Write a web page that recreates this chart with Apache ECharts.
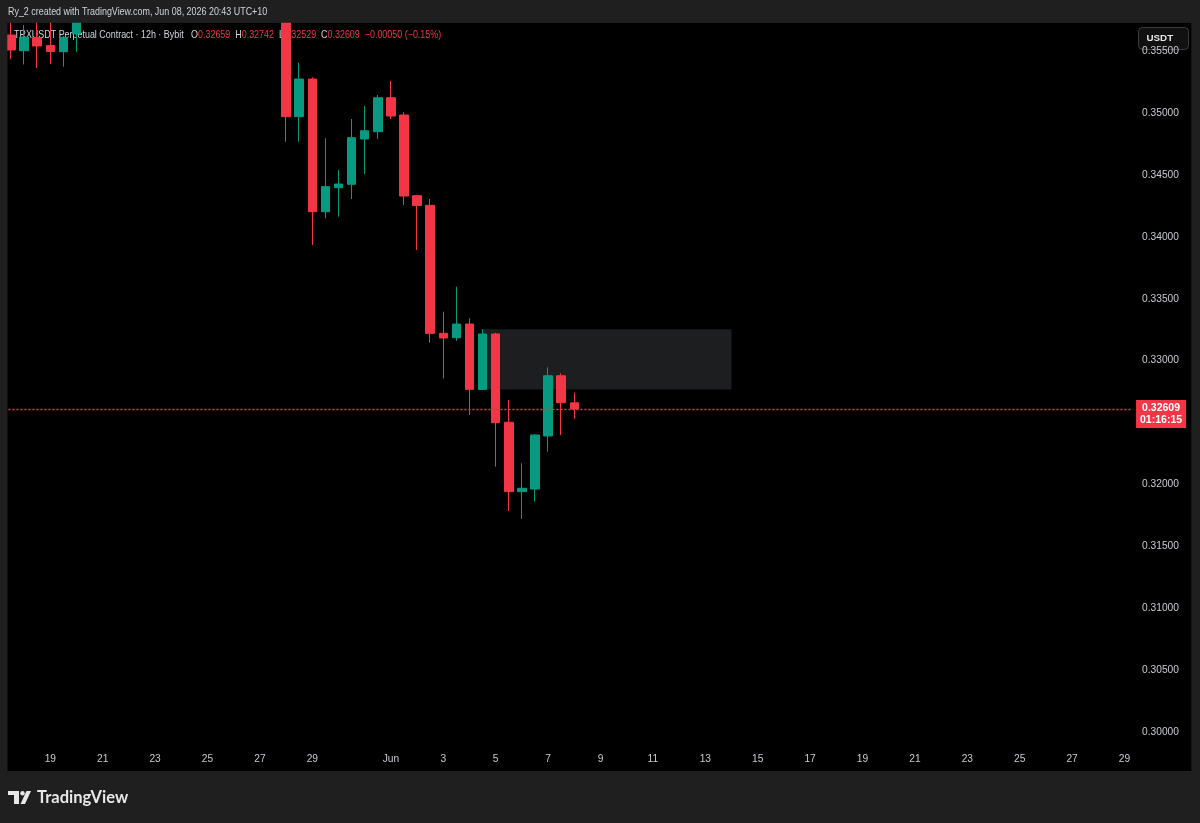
<!DOCTYPE html>
<html>
<head>
<meta charset="utf-8">
<title>TRXUSDT 12h</title>
<script src="https://cdn.jsdelivr.net/npm/echarts@6/dist/echarts.min.js"></script>
<style>
  html, body { margin: 0; padding: 0; background: #1f1f1f; }
  #chart { width: 1200px; height: 823px; }
</style>
</head>
<body>
<div id="chart"></div>
<script>
// 12h candles, first slot = May 17 22:00 (UTC+10). null = candle above the visible range
var openPrices  = [0.35633, 0.35506, 0.35613, 0.35548, 0.35498, 0.35641,
  null, null, null, null, null, null, null, null, null, null, null, null, null, null, null,
  0.3610, 0.34973, 0.35277, 0.34204, 0.34398, 0.34426, 0.34792, 0.34851, 0.35126, 0.34986,
  0.34334, 0.34256, 0.33221, 0.33186, 0.33296, 0.32767, 0.33216, 0.32502, 0.31941, 0.31962,
  0.32391, 0.32878, 0.32659];
var highPrices  = [0.3578, 0.35714, 0.3580, 0.3577, 0.35625, 0.3586,
  null, null, null, null, null, null, null, null, null, null, null, null, null, null, null,
  0.3620, 0.35409, 0.35291, 0.34798, 0.34542, 0.34954, 0.35059, 0.35148, 0.35261, 0.35008,
  0.34337, 0.34307, 0.33396, 0.33598, 0.33342, 0.33254, 0.33226, 0.32682, 0.32170, 0.32405,
  0.32946, 0.32898, 0.32742];
var lowPrices   = [0.35437, 0.35395, 0.35366, 0.35399, 0.35377, 0.35498,
  null, null, null, null, null, null, null, null, null, null, null, null, null, null, null,
  0.34770, 0.34770, 0.33935, 0.34151, 0.34164, 0.34307, 0.34509, 0.34792, 0.34954, 0.34259,
  0.33895, 0.33145, 0.32857, 0.33161, 0.32561, 0.32764, 0.32143, 0.31784, 0.31720, 0.31860,
  0.32264, 0.32399, 0.32529];
var closePrices = [0.35512, 0.35617, 0.35544, 0.35500, 0.35614, 0.3580,
  null, null, null, null, null, null, null, null, null, null, null, null, null, null, null,
  0.34973, 0.35277, 0.34204, 0.34407, 0.34428, 0.34803, 0.34859, 0.35126, 0.34978, 0.34331,
  0.34255, 0.33221, 0.33183, 0.33296, 0.32768, 0.33216, 0.32498, 0.31941, 0.31968, 0.32399,
  0.32878, 0.32660, 0.32609];

var priceTicks = [0.300, 0.305, 0.310, 0.315, 0.320, 0.325, 0.330, 0.335, 0.340, 0.345, 0.350, 0.355];
var zoneBox = { fromSlot: 36, toSlot: 55, top: 0.33254, bottom: 0.32767 };
var lastChange = '\u22120.00050 (\u22120.15%)';
var countdown = '01:16:15';

var slotCount = 86;
var monthNames = ['Jan','Feb','Mar','Apr','May','Jun','Jul','Aug','Sep','Oct','Nov','Dec'];
var categories = [];
var dayLabels = [];
var startTime = Date.UTC(2026, 4, 17, 22);
for (var i = 0; i < slotCount; i++) {
  var d = new Date(startTime + i * 12 * 3600 * 1000);
  var day = d.getUTCDate(), hour = d.getUTCHours();
  categories.push(monthNames[d.getUTCMonth()] + ' ' + day + ' ' + (hour < 10 ? '0' : '') + hour + ':00');
  var lbl = '';
  // every second day; 31 is skipped since month start follows
  if (hour === 10 && day % 2 === 1 && day !== 31) {
    lbl = day === 1 ? monthNames[d.getUTCMonth()] : String(day);
  }
  dayLabels.push(lbl);
}

var candleData = openPrices.map(function (o, i) {
  if (o === null) return '-';
  return [o, closePrices[i], lowPrices[i], highPrices[i]];
});

var FONT = "'Liberation Sans', Arial, sans-serif";
var UP = '#089981', DOWN = '#f23645', TEXT = '#c9cbd1', FRAME = '#1f1f1f';
var last = openPrices.length - 1;

var chart = echarts.init(document.getElementById('chart'));

var option = {
  backgroundColor: FRAME,
  animation: false,
  textStyle: { fontFamily: FONT },
  grid: { left: 4.45, right: 68.95, top: 22.7, bottom: 80, containLabel: false },
  xAxis: {
    type: 'category',
    data: categories,
    boundaryGap: true,
    axisLine: { show: false },
    axisTick: { show: false },
    splitLine: { show: false },
    axisLabel: {
      interval: 0,
      margin: 11,
      color: TEXT,
      fontSize: 10.2,
      fontFamily: FONT,
      formatter: function (v, idx) { return dayLabels[idx]; }
    }
  },
  yAxis: {
    type: 'value',
    position: 'right',
    min: 0.299086,
    max: 0.357325,
    axisLine: { show: false },
    axisTick: { show: false },
    splitLine: { show: false },
    axisLabel: {
      customValues: priceTicks,
      margin: 11,
      color: TEXT,
      fontSize: 10.2,
      fontFamily: FONT,
      formatter: function (v) { return v.toFixed(5); }
    }
  },
  series: [{
    type: 'candlestick',
    data: candleData,
    barWidth: 9,
    clip: true,
    itemStyle: {
      color: UP, color0: DOWN,
      borderColor: UP, borderColor0: DOWN,
      borderWidth: 1
    },
    markArea: {
      silent: true,
      itemStyle: { color: '#1d1e20' },
      data: [[
        { xAxis: categories[zoneBox.fromSlot], yAxis: zoneBox.top },
        { xAxis: categories[zoneBox.toSlot], yAxis: zoneBox.bottom }
      ]]
    },
    markLine: {
      silent: true,
      symbol: 'none',
      precision: 5,
      z: 6,
      lineStyle: { color: DOWN, width: 1.3, type: [2, 2], opacity: 1 },
      label: {
        position: 'end',
        distance: 5,
        offset: [0, 5],
        formatter: function (p) { return '{a|' + Number(p.value).toFixed(5) + '}\n{a|' + countdown + '}'; },
        backgroundColor: DOWN,
        padding: [2, 3],
        rich: {
          a: { color: '#ffffff', fontSize: 10.5, fontWeight: 'bold', fontFamily: FONT, lineHeight: 12, width: 44, align: 'center' }
        }
      },
      data: [{ yAxis: closePrices[last] }]
    }
  }],
  graphic: [
    { type: 'rect', z: -10, shape: { x: 7.3, y: 22.7, width: 1184, height: 748.3 }, style: { fill: '#000000' } },
    // frame strips drawn over candles that run past the panel edge
    { type: 'rect', z: 20, shape: { x: 0, y: 0, width: 7.3, height: 823 }, style: { fill: FRAME } },
    { type: 'rect', z: 20, shape: { x: 0, y: 0, width: 1200, height: 22.7 }, style: { fill: FRAME } },
    {
      type: 'text', z: 21, x: 8, y: 7, scaleX: 0.85,
      style: { text: 'Ry_2 created with TradingView.com, Jun 08, 2026 20:43 UTC+10', fill: '#d1d4dc', font: '10.5px ' + FONT }
    },
    {
      type: 'text', z: 1, x: 14, y: 30, scaleX: 0.85,
      style: {
        text: '{t|TRXUSDT Perpetual Contract \u00b7 12h \u00b7 Bybit}   {k|O}{v|' + openPrices[last].toFixed(5) + '}  {k|H}{v|' +
          highPrices[last].toFixed(5) + '}  {k|L}{v|' + lowPrices[last].toFixed(5) + '}  {k|C}{v|' +
          closePrices[last].toFixed(5) + '}  {v|' + lastChange + '}',
        font: '10.5px ' + FONT,
        rich: {
          t: { fill: '#d1d4dc', fontSize: 10.5, fontFamily: FONT },
          k: { fill: '#d1d4dc', fontSize: 10.5, fontFamily: FONT },
          v: { fill: DOWN, fontSize: 10.5, fontFamily: FONT }
        }
      }
    },
    {
      type: 'group', z: 22, left: 1138, top: 27,
      children: [
        { type: 'rect', shape: { x: 0, y: 0, width: 50, height: 22, r: 4 }, style: { fill: '#111111', stroke: '#3d3d3d', lineWidth: 1 } },
        { type: 'text', style: { x: 8, y: 11, text: 'USDT', fill: '#e6e6e6', font: 'bold 9.8px ' + FONT, align: 'left', verticalAlign: 'middle' } }
      ]
    },
    {
      type: 'group', z: 22, left: 8, top: 789,
      children: [
        { type: 'polygon', shape: { points: [[0, 1], [11, 1], [11, 14], [6, 14], [6, 5], [0, 5]] }, style: { fill: '#e8e8e8' } },
        { type: 'circle', shape: { cx: 14.5, cy: 3.2, r: 2.2 }, style: { fill: '#e8e8e8' } },
        { type: 'polygon', shape: { points: [[18.5, 1], [23, 1], [17, 14], [12.5, 14]] }, style: { fill: '#e8e8e8' } },
        { type: 'text', style: { x: 29, y: 7.5, text: 'TradingView', fill: '#e8e8e8', font: 'bold 16.5px Lato, sans-serif', verticalAlign: 'middle' } }
      ]
    }
  ]
};

chart.setOption(option);
</script>
</body>
</html>
